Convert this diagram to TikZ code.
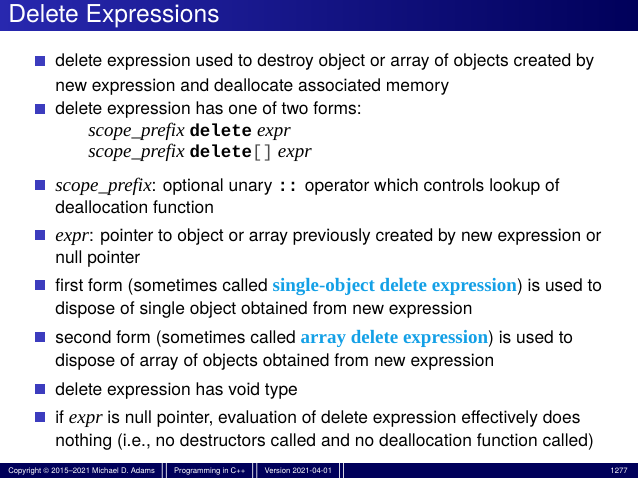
\documentclass[tikz,border=0pt]{standalone}
\usepackage{fontspec}
\setmainfont{TeX Gyre Heros}
\newfontfamily\tms{Liberation Serif}
\newfontfamily\cour{Liberation Mono}
\definecolor{bul}{RGB}{60,60,190}
\definecolor{hl}{RGB}{20,160,230}
\definecolor{navy}{RGB}{0,0,90}
\definecolor{tblue}{RGB}{40,40,175}
\newcommand{\itx}[1]{{\tms\itshape\fontsize{10.8}{13}\selectfont #1}}
\newcommand{\kw}[1]{{\cour\bfseries #1}}
\newcommand{\hlt}[1]{{\tms\bfseries\fontsize{10.8}{13}\selectfont\color{hl}#1}}
\begin{document}
\begin{tikzpicture}[x=0.5687pt,y=-0.5687pt,
  txt/.style={anchor=base west,inner sep=0pt,font=\fontsize{9.9}{12}\selectfont},
  bsq/.style={fill=bul,minimum size=5.7pt,inner sep=0pt}]
\useasboundingbox (0,0) rectangle (638,478);
\shade[left color=tblue,right color=navy] (0,0) rectangle (638,31);
\node[anchor=base west,inner sep=0pt,text=white,font=\fontsize{14}{16}\selectfont] (title) at (8,23) {Delete Expressions};
\fill[navy] (0,463) rectangle (638,478);
\node[anchor=base west,inner sep=0pt,text=white,font=\fontsize{4.4}{5}\selectfont] (foot) at (8,473) {Copyright \copyright\ 2015--2021 Michael D. Adams \ \textbf{\large$\|$}\ \ Programming in C++ \ \textbf{\large$\|$}\ \ Version 2021-04-01 \ \textbf{\large$\|$}};
\node[anchor=base east,inner sep=0pt,text=white,font=\fontsize{4.4}{5}\selectfont] (pg) at (628,473) {1277};
\foreach \y/\n in {67/b1,115/b2,191/b3,241/b4,291/b5,343/b6,395/b7,423/b8}
  \node[bsq] (\n) at (40,\y-6) {};
\node[txt] (t1) at (55,67) {delete expression used to destroy object or array of objects created by};
\node[txt] (t1b) at (55,91) {new expression and deallocate associated memory};
\node[txt] (t2) at (55,115) {delete expression has one of two forms:};
\node[txt] (c1) at (88,136) {\itx{scope\_prefix} \kw{delete} \itx{expr}};
\node[txt] (c2) at (88,157) {\itx{scope\_prefix} \kw{delete}{\cour\color{black!70}[]} \itx{expr}};
\node[txt] (t3) at (55,191) {\itx{scope\_prefix}: optional unary \kw{::} operator which controls lookup of};
\node[txt] (t3b) at (55,213) {deallocation function};
\node[txt] (t4) at (55,241) {\itx{expr}: pointer to object or array previously created by new expression or};
\node[txt] (t4b) at (55,263) {null pointer};
\node[txt] (t5) at (55,291) {first form (sometimes called \hlt{single-object delete expression}) is used to};
\node[txt] (t5b) at (55,314) {dispose of single object obtained from new expression};
\node[txt] (t6) at (55,343) {second form (sometimes called \hlt{array delete expression}) is used to};
\node[txt] (t6b) at (55,366) {dispose of array of objects obtained from new expression};
\node[txt] (t7) at (55,395) {delete expression has void type};
\node[txt] (t8) at (55,423) {if \itx{expr} is null pointer, evaluation of delete expression effectively does};
\node[txt] (t8b) at (55,446) {nothing (i.e., no destructors called and no deallocation function called)};
\end{tikzpicture}
\end{document}
